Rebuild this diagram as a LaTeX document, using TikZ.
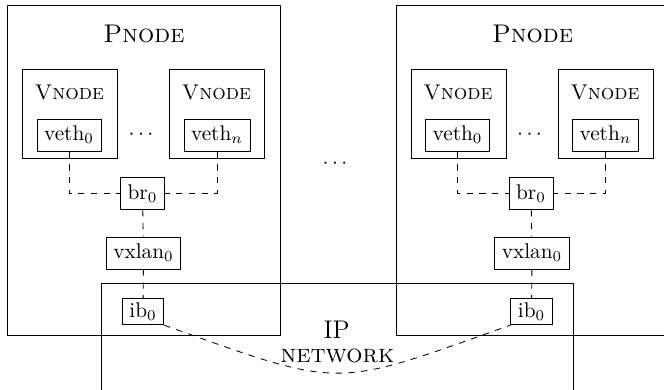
\documentclass[tikz,border=0pt]{standalone}
\begin{document}
\begin{tikzpicture}[x=0.47pt,y=-0.47pt,
  frame/.style={draw, inner sep=0pt, anchor=north west},
  iface/.style={draw},
  ibox/.style={draw, inner ysep=2pt},
  link/.style={dashed},
  title/.style={font=\large\scshape, anchor=base},
  vtitle/.style={font=\scshape, anchor=base}]
\useasboundingbox (0,0) rectangle (664,389);
\clip (0,0) rectangle (664,389);
\foreach \s/\sh in {L/0pt, R/182.6pt}{
\begin{scope}[xshift=\sh]
  \node[frame, minimum width=128.3pt, minimum height=155.1pt] (p\s) at (7,5) {};
  \node[title] (pt\s) at (144,42) {Pnode};
  \node[frame, minimum width=44.65pt, minimum height=41.8pt] (va\s) at (22,69) {};
  \node[frame, minimum width=44.65pt, minimum height=41.8pt] (vb\s) at (169,69) {};
  \node[vtitle] (vat\s) at (69.5,99) {Vnode};
  \node[vtitle] (vbt\s) at (216.5,99) {Vnode};
  \node[iface] (ea\s) at (69,135) {veth$_0$};
  \node[iface] (eb\s) at (217,135) {veth$_n$};
  \node (dots\s) at (141,135) {$\cdots$};
  \node[iface] (br\s) at (142.5,193.5) {br$_0$};
  \node[iface] (vx\s) at (143.5,253) {vxlan$_0$};
  \node[ibox] (ib\s) at (143,311.5) {ib$_0$};
  \draw[link] (ea\s.south) |- (br\s.west);
  \draw[link] (eb\s.south) |- (br\s.east);
  \draw[link] (br\s) -- (vx\s) -- (ib\s);
\end{scope}}
\node (mdots) at (335,164) {$\cdots$};
\node[frame, minimum width=221.8pt, minimum height=70pt] (ipnet) at (101,283) {};
\node[font=\large, anchor=base] (ipt) at (336.5,338) {IP};
\node[font=\large\scshape, anchor=base] (nett) at (337.5,362) {network};
\draw[link] (ibL.south east) .. controls +(180,64) and +(-180,64) .. (ibR.south west);
\end{tikzpicture}
\end{document}
